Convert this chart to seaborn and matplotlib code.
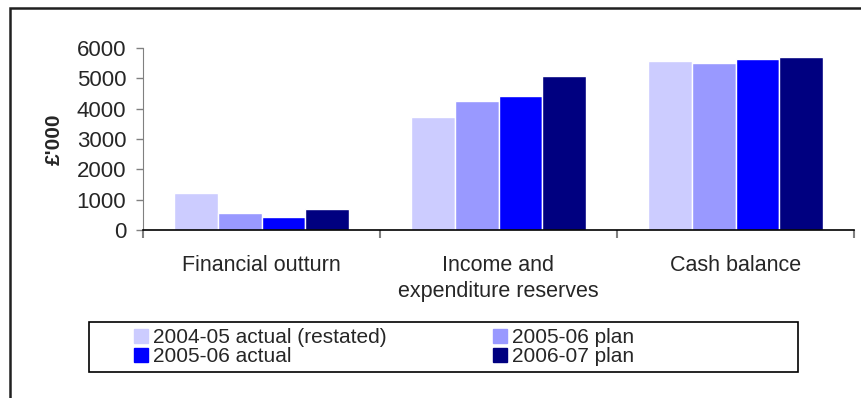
import matplotlib
matplotlib.use("Agg")
import matplotlib.pyplot as plt
import matplotlib.patches as mpatches
import pandas as pd
import seaborn as sns

categories = ["Financial outturn", "Income and\nexpenditure reserves", "Cash balance"]
series = ["2004-05 actual (restated)", "2005-06 plan", "2005-06 actual", "2006-07 plan"]
actual_0405 = [1210, 3715, 5560]
plan_0506 = [550, 4245, 5495]
actual_0506 = [420, 4430, 5625]
plan_0607 = [680, 5090, 5695]
colors = ["#CCCCFF", "#9999FF", "#0000FF", "#000080"]

rows = []
for name, vals in zip(series, [actual_0405, plan_0506, actual_0506, plan_0607]):
    for cat, v in zip(categories, vals):
        rows.append({"category": cat, "series": name, "value": v})
df = pd.DataFrame(rows)

sns.set_style("white")
plt.rcParams["font.family"] = ["Liberation Sans", "DejaVu Sans"]

fig = plt.figure(figsize=(8.61, 3.98), dpi=100)
W, H = 861, 398
ax = fig.add_axes([143 / W, 1 - 230 / H, (854 - 143) / W, (230 - 48) / H])

sns.barplot(data=df, x="category", y="value", hue="series", palette=colors,
            width=0.735, gap=0, ax=ax, legend=False, saturation=1)

ax.set_ylim(0, 6000)
ax.set_yticks(range(0, 6001, 1000))
ax.set_xlim(-0.5, 2.5)
ax.set_xlabel("")
ax.set_ylabel("£'000", fontsize=15, fontweight="bold", labelpad=9)
ax.tick_params(axis="y", labelsize=16, length=5, width=1, color="#808080", direction="out", pad=7, left=True)
ax.tick_params(axis="x", which="major", labelsize=15.5, length=0, pad=18)
for lbl in ax.get_xticklabels():
    lbl.set_linespacing(1.3)
ax.set_xticks([-0.5, 0.5, 1.5, 2.5], minor=True)
ax.tick_params(axis="x", which="minor", length=6, width=1.5, color="#808080", direction="out", bottom=True)
for s in ["top", "right"]:
    ax.spines[s].set_visible(False)
ax.spines["left"].set_color("#808080")
ax.spines["bottom"].set_color("black")
ax.spines["bottom"].set_linewidth(1.2)

handles = [mpatches.Patch(color=c) for c in colors]
order = [0, 2, 1, 3]
leg = fig.legend([handles[i] for i in order], [series[i] for i in order], ncol=2,
                 loc="upper left", bbox_to_anchor=(134 / W, 1 - 328 / H),
                 fontsize=15, frameon=False, borderpad=0,
                 handlelength=0.67, handleheight=0.67, handletextpad=0.25,
                 labelspacing=0, columnspacing=5.1, borderaxespad=0)

# legend box
fig.patches.append(mpatches.Rectangle((89 / W, 1 - 372 / H), (798 - 89) / W, 50 / H,
                                      transform=fig.transFigure, fill=False,
                                      edgecolor="black", linewidth=1.2))
# outer chart-area border (only top and left visible)
fig.patches.append(mpatches.Rectangle((10 / W, -0.1), 1.2, 1 - 8 / H + 0.1,
                                      transform=fig.transFigure, fill=False,
                                      edgecolor="#202020", linewidth=1.8))

fig.savefig("out.png", dpi=100)
